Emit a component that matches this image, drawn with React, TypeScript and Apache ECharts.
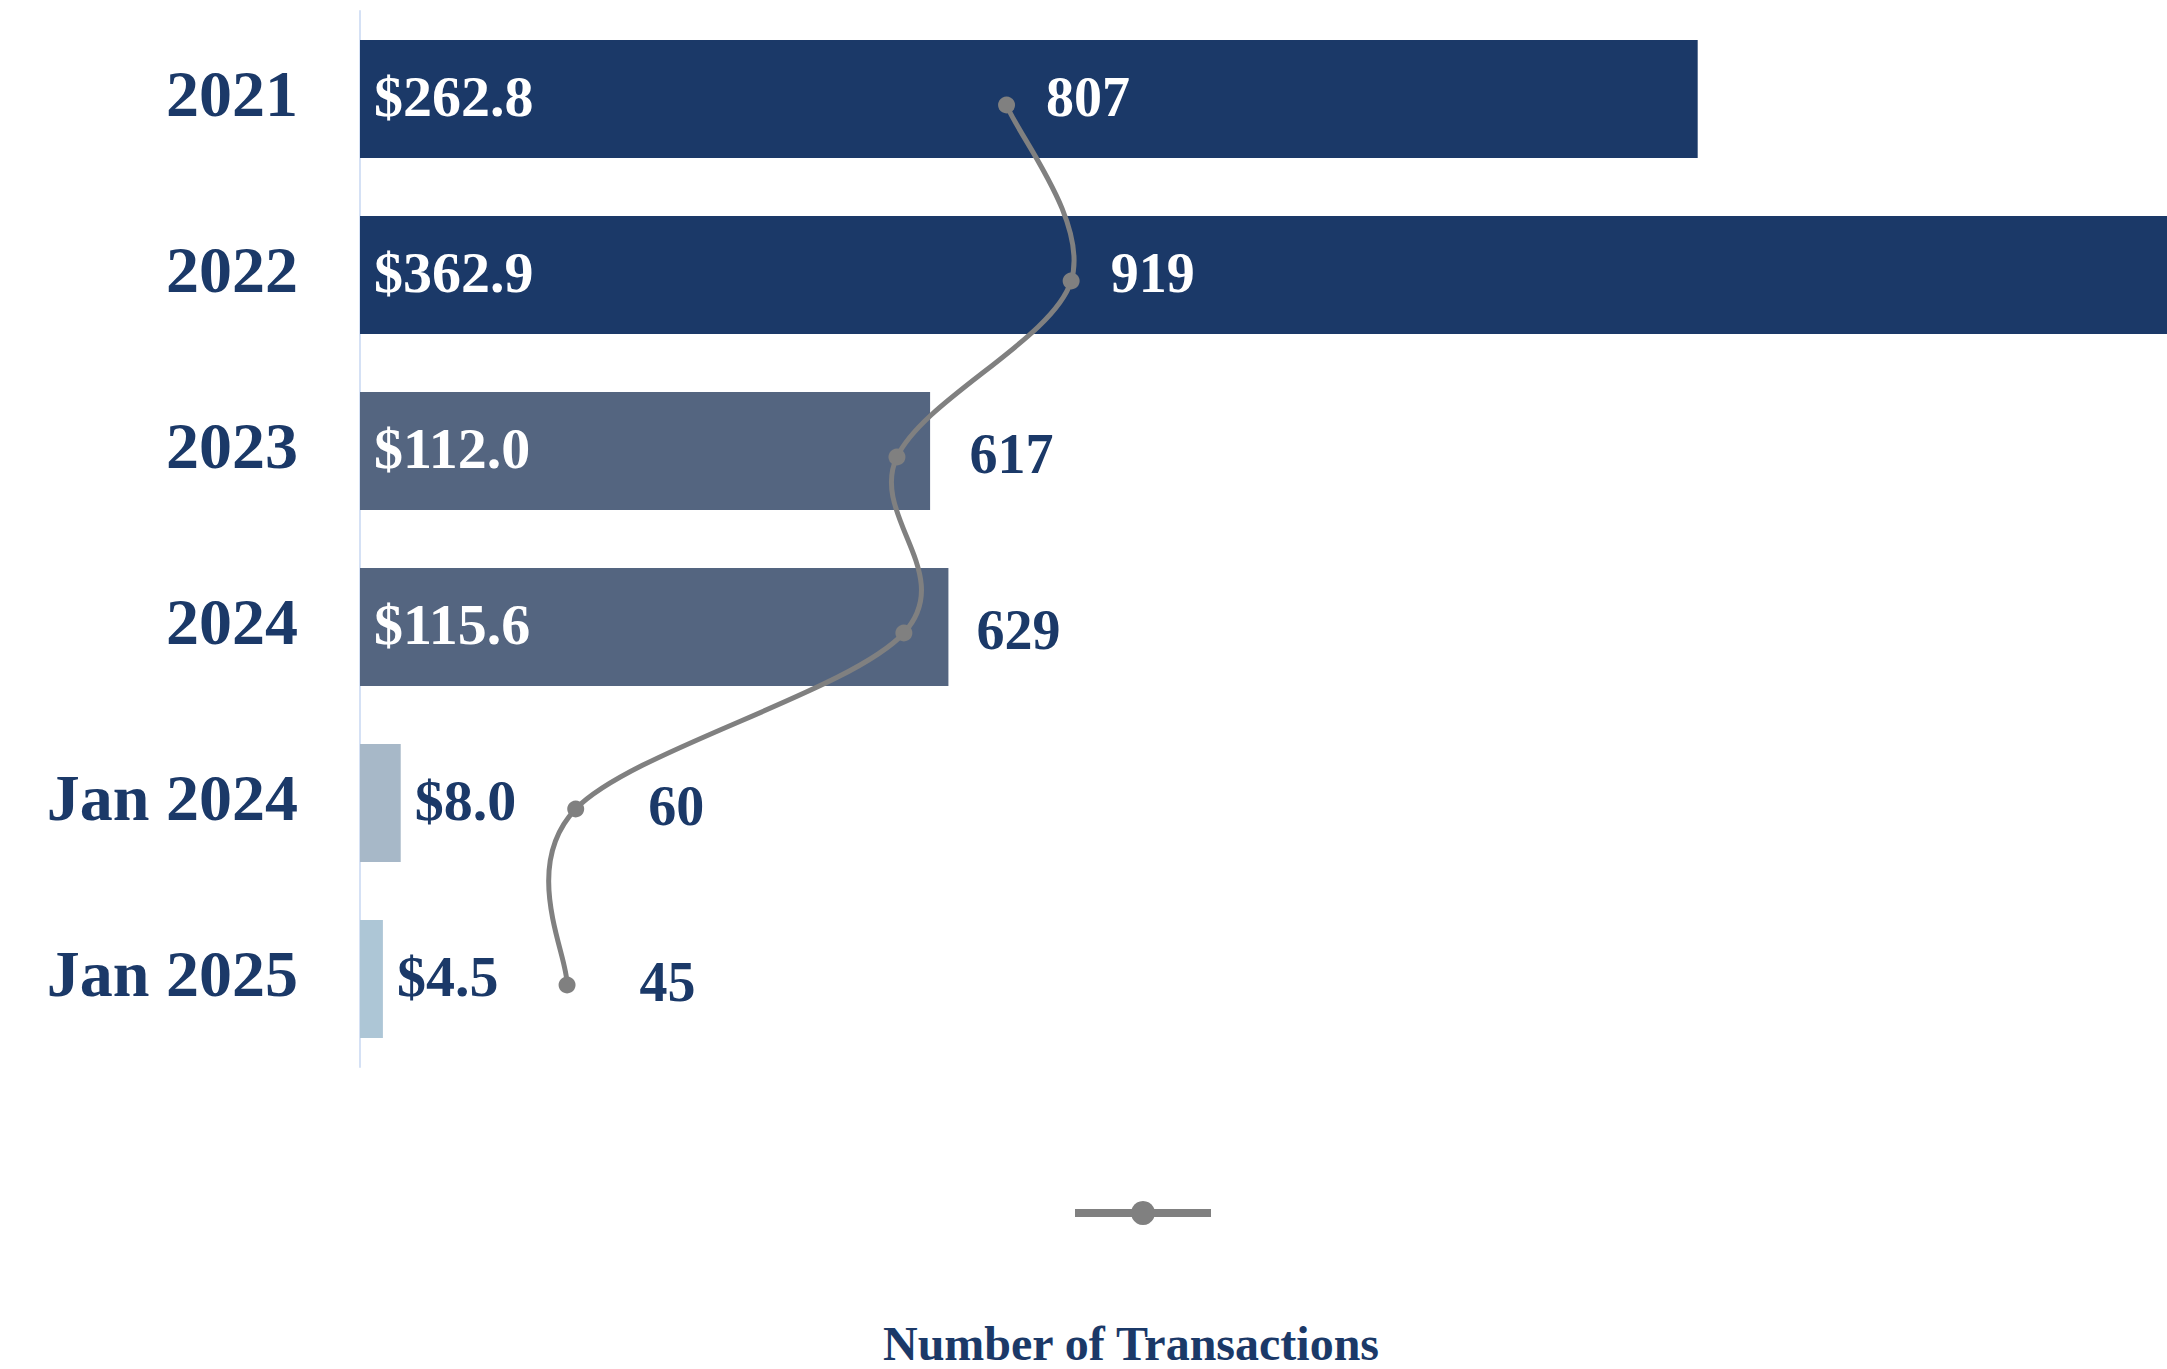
import React, { useEffect, useRef } from "react";
import * as echarts from "echarts";

const categories = ["2021", "2022", "2023", "2024", "Jan 2024", "Jan 2025"];
const volumeValues = [262.8, 362.9, 112.0, 115.6, 8.0, 4.5];
const transactionValues = [807, 919, 617, 629, 60, 45];
const barColors = ["#1B3968", "#1B3968", "#546580", "#546580", "#A7B8C8", "#ADC6D6"];

const DARK = "#1B3968";
const GRAY = "#808080";
const FONT = "'Liberation Serif', 'DejaVu Serif', serif";

function catmullRomPath(pts: number[][]): string {
  if (!pts.length) return "";
  let d = `M${pts[0][0]},${pts[0][1]}`;
  for (let i = 0; i < pts.length - 1; i++) {
    const p0 = pts[Math.max(i - 1, 0)];
    const p1 = pts[i];
    const p2 = pts[i + 1];
    const p3 = pts[Math.min(i + 2, pts.length - 1)];
    const c1x = p1[0] + (p2[0] - p0[0]) / 6;
    const c1y = p1[1] + (p2[1] - p0[1]) / 6;
    const c2x = p2[0] - (p3[0] - p1[0]) / 6;
    const c2y = p2[1] - (p3[1] - p1[1]) / 6;
    d += ` C${c1x},${c1y} ${c2x},${c2y} ${p2[0]},${p2[1]}`;
  }
  return d;
}

export default function App() {
  const ref = useRef<HTMLDivElement>(null);

  useEffect(() => {
    document.body.style.margin = "0";
    const chart = echarts.init(ref.current!, undefined, { renderer: "svg" });
    const option = {
      animation: false,
      backgroundColor: "#ffffff",
      grid: [
        { left: 360, right: 0, top: 11, bottom: 302, containLabel: false },
        { left: 360, right: 0, top: 17, bottom: 296, containLabel: false },
      ],
      legend: {
        show: true,
        left: 1066,
        top: 1193,
        itemWidth: 136,
        itemHeight: 30,
        formatter: () => "",
        lineStyle: { width: 8, color: GRAY, opacity: 1 },
        itemStyle: { color: GRAY, opacity: 1 },
        data: ["Number of Transactions"],
        selectedMode: false,
      },
      graphic: [
        {
          type: "text",
          x: 1131,
          y: 1343,
          style: {
            text: "Number of Transactions",
            font: `bold 48px ${FONT}`,
            fill: DARK,
            textAlign: "center",
            textVerticalAlign: "middle",
          },
        },
      ],
      xAxis: [
        { type: "value", gridIndex: 0, min: 0, max: 355, show: false },
        { type: "value", gridIndex: 1, min: -314, max: 2819, show: false },
      ],
      yAxis: [
        {
          type: "category",
          gridIndex: 0,
          inverse: true,
          data: categories,
          axisLine: { show: true, lineStyle: { color: "#D5E1F5", width: 2 } },
          axisTick: { show: false },
          splitLine: { show: false },
          axisLabel: {
            margin: 62,
            formatter: (v: string) => `{c|${v}}`,
            rich: {
              c: {
                color: DARK,
                fontFamily: FONT,
                fontWeight: "bold",
                fontSize: 66,
                padding: [0, 0, 11, 0],
              },
            },
          },
        },
        {
          type: "category",
          gridIndex: 1,
          inverse: true,
          data: categories,
          show: false,
        },
      ],
      series: [
        {
          name: "Volume",
          type: "bar",
          xAxisIndex: 0,
          yAxisIndex: 0,
          barCategoryGap: "33%",
          clip: true,
          data: volumeValues.map((v, i) => ({
            value: v,
            itemStyle: { color: barColors[i] },
            label:
              v > 50
                ? { position: "insideLeft", color: "#ffffff", distance: 14 }
                : { position: "right", color: DARK, distance: 14 },
          })),
          label: {
            show: true,
            fontFamily: FONT,
            fontWeight: "bold",
            fontSize: 58,
            offset: [0, -3],
            formatter: (p: any) => "$" + Number(p.value).toFixed(1),
          },
          z: 2,
        },
        {
          name: "curve",
          type: "custom",
          xAxisIndex: 1,
          yAxisIndex: 1,
          silent: true,
          data: transactionValues.map((v, i) => [v, i]),
          renderItem: (params: any, api: any) => {
            if (params.dataIndex !== 0) return null;
            const pts = transactionValues.map((v, i) => api.coord([v, i]));
            return {
              type: "path",
              shape: { pathData: catmullRomPath(pts) },
              style: { fill: "none", stroke: GRAY, lineWidth: 5 },
            };
          },
          z: 5,
        },
        {
          name: "Number of Transactions",
          type: "line",
          xAxisIndex: 1,
          yAxisIndex: 1,
          smooth: true,
          symbol: "circle",
          symbolSize: 17,
          lineStyle: { color: GRAY, width: 5, opacity: 0 },
          itemStyle: { color: GRAY },
          data: transactionValues.map((v, i) => ({
            value: v,
            label: {
              color: i < 2 ? "#ffffff" : DARK,
              distance: i < 2 ? 31 : 64,
              offset: i < 2 ? [0, -8] : [0, -3],
            },
          })),
          label: {
            show: true,
            position: "right",
            fontFamily: FONT,
            fontWeight: "bold",
            fontSize: 56,
          },
          z: 6,
        },
      ],
    };
    chart.setOption(option as any);
    return () => chart.dispose();
  }, []);

  return <div ref={ref} style={{ width: 2167, height: 1369 }} />;
}
